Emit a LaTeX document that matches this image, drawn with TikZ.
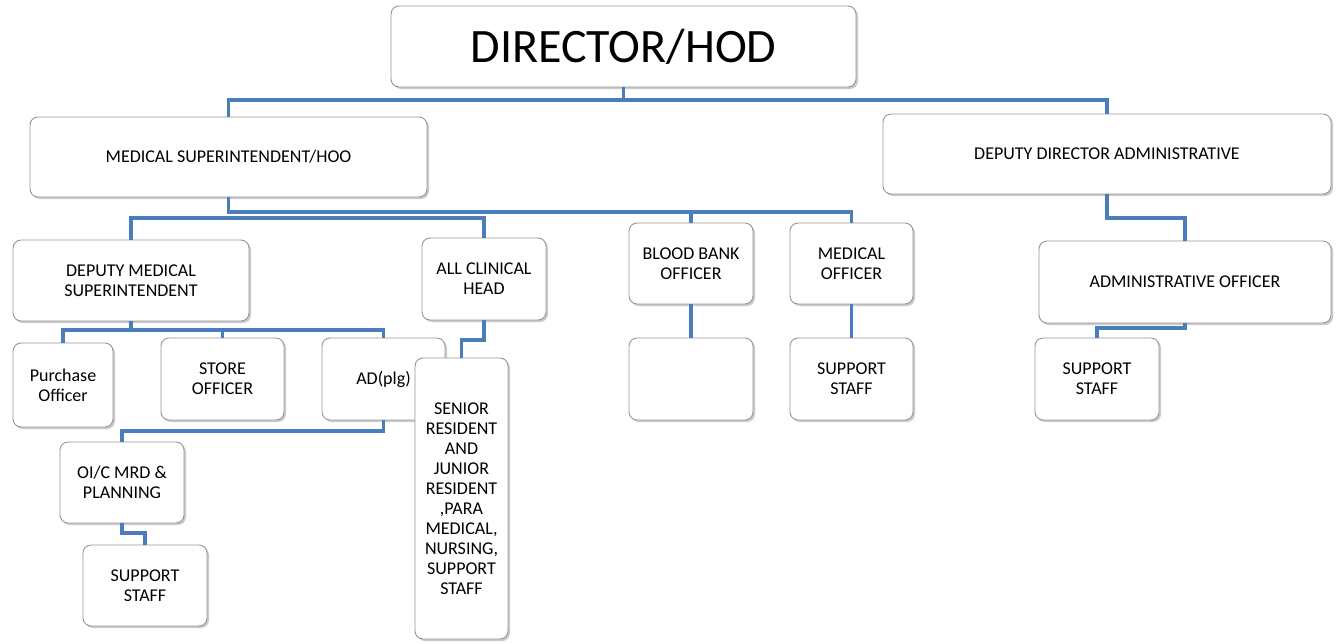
\documentclass[tikz,border=0pt]{standalone}
\usepackage{fontspec}
\setmainfont{Carlito}
\usetikzlibrary{shadows}
\definecolor{linkblue}{RGB}{74,126,187}
\definecolor{boxborder}{RGB}{150,150,150}
\tikzset{
  orgbox/.style={draw=boxborder, line width=0.9pt, fill=white, rounded corners=8pt,
    align=center, inner sep=2pt, font=\fontsize{18}{20}\selectfont,
    drop shadow={shadow xshift=2pt, shadow yshift=-2pt, opacity=0.35, fill=black!60}},
  link/.style={draw=linkblue, line width=3.3pt}
}
\begin{document}
\begin{tikzpicture}[x=1pt,y=-1pt]
\useasboundingbox (0,0) rectangle (1342,643);
% boxes
\node[orgbox, minimum width=465pt, minimum height=81pt, font=\fontsize{48}{52}\selectfont] (dir) at (623.5,46.5) {DIRECTOR/HOD};
\node[orgbox, minimum width=397pt, minimum height=80pt] (ms) at (228.5,157) {MEDICAL SUPERINTENDENT/HOO};
\node[orgbox, minimum width=448pt, minimum height=80pt] (dda) at (1107,154) {DEPUTY DIRECTOR ADMINISTRATIVE};
\node[orgbox, minimum width=236pt, minimum height=81pt] (dms) at (131,280.5) {DEPUTY MEDICAL\\SUPERINTENDENT};
\node[orgbox, minimum width=124pt, minimum height=82pt] (ach) at (484,279) {ALL CLINICAL\\HEAD};
\node[orgbox, minimum width=124pt, minimum height=81pt] (bbo) at (691,263.5) {BLOOD BANK\\OFFICER};
\node[orgbox, minimum width=123pt, minimum height=81pt] (mo) at (851.5,263.5) {MEDICAL\\OFFICER};
\node[orgbox, minimum width=292pt, minimum height=82pt] (ao) at (1185,282) {ADMINISTRATIVE OFFICER};
\node[orgbox, minimum width=100pt, minimum height=84pt] (po) at (63,385) {Purchase\\Officer};
\node[orgbox, minimum width=123pt, minimum height=82pt] (so) at (222.5,379) {STORE\\OFFICER};
\node[orgbox, minimum width=123pt, minimum height=82pt] (ad) at (383.5,379) {AD(plg)};
\node[orgbox, minimum width=93pt, minimum height=281pt] (sr) at (461.5,498.5) {SENIOR\\RESIDENT\\AND\\JUNIOR\\RESIDENT\\,PARA\\MEDICAL,\\NURSING,\\SUPPORT\\STAFF};
\node[orgbox, minimum width=124pt, minimum height=81pt] (oic) at (122,482.5) {OI/C MRD \&\\PLANNING};
\node[orgbox, minimum width=124pt, minimum height=81pt] (ss1) at (145,585.5) {SUPPORT\\STAFF};
\node[orgbox, minimum width=124pt, minimum height=82pt] (bbe) at (691,379) {};
\node[orgbox, minimum width=123pt, minimum height=82pt] (ss2) at (851.5,379) {SUPPORT\\STAFF};
\node[orgbox, minimum width=124pt, minimum height=82pt] (ss3) at (1097,379) {SUPPORT\\STAFF};
% connectors
\draw[link] (dir.south) -- (dir.south |- 0,100) -| (ms.north);
\draw[link] (dir.south |- 0,100) -| (dda.north);
\draw[link] (ms.south) -- (ms.south |- 0,212) -| (mo.north);
\draw[link] (ms.south |- 0,212) -| (bbo.north);
\draw[link] (ms.south |- 0,218) -| (dms.north);
\draw[link] (ms.south |- 0,218) -| (ach.north);
\draw[link] (dms.south) -- (dms.south |- 0,330) -| (po.north);
\draw[link] (dms.south |- 0,330) -| (so.north);
\draw[link] (dms.south |- 0,330) -| (ad.north);
\draw[link] (ach.south) -- (ach.south |- 0,340) -| (sr.north);
\draw[link] (ad.south) -- (ad.south |- 0,431) -| (oic.north);
\draw[link] (oic.south) -- (oic.south |- 0,533) -| (ss1.north);
\draw[link] (bbo.south) -- (bbe.north);
\draw[link] (mo.south) -- (ss2.north);
\draw[link] (dda.south) -- (dda.south |- 0,218) -| (ao.north);
\draw[link] (ao.south) -- (ao.south |- 0,328) -| (ss3.north);
\end{tikzpicture}
\end{document}
